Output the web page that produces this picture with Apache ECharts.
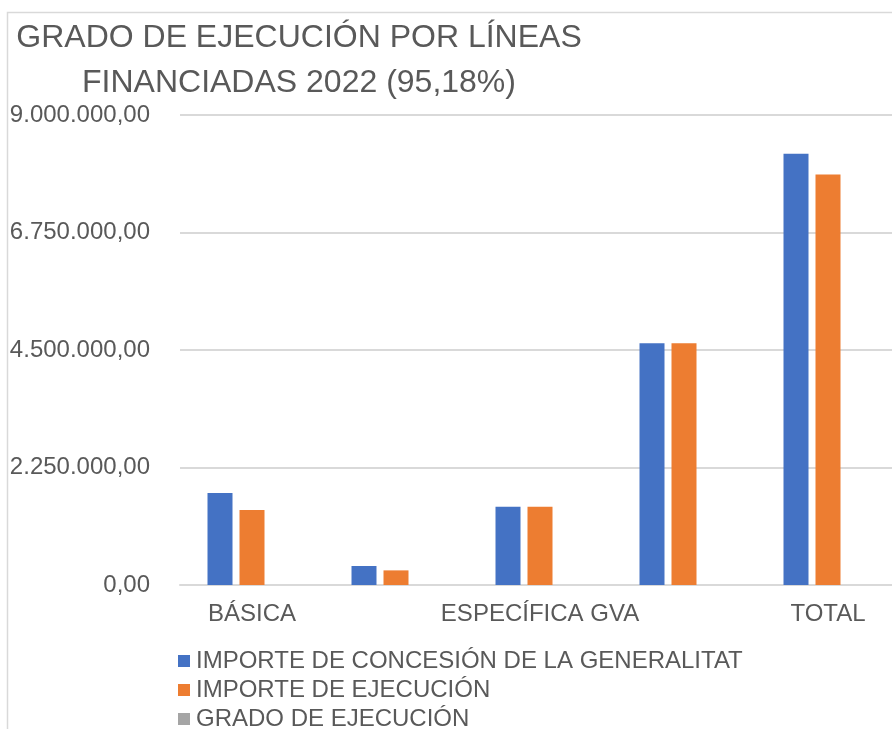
<!DOCTYPE html>
<html>
<head>
<meta charset="utf-8">
<script src="https://cdn.jsdelivr.net/npm/echarts@6/dist/echarts.min.js"></script>
<style>
  html, body { margin: 0; padding: 0; background: #fff; }
  #chart { width: 892px; height: 729px; }
</style>
</head>
<body>
<div id="chart"></div>
<script>
// Categories (only every other label is shown in the original)
const categories = ['BÁSICA', 'LÍNEA 2', 'ESPECÍFICA GVA', 'LÍNEA 4', 'TOTAL']

// Series values (euros)
const importeConcesion = [1762000, 364000, 1500000, 4628000, 8260000]
const importeEjecucion = [1436000, 280000, 1500000, 4628000, 7862000]
const gradoEjecucion = [0.815, 0.77, 1, 1, 0.9518]

const seriesNames = [
  'IMPORTE DE CONCESIÓN DE LA GENERALITAT',
  'IMPORTE DE EJECUCIÓN',
  'GRADO DE EJECUCIÓN'
]
const colors = ['#4472C4', '#ED7D31', '#A5A5A5']

// Y axis ticks
const yMin = 0
const yMax = 9000000
const yStep = 2250000

const fontFamily = '"Liberation Sans", Arial, sans-serif'
const textColor = '#595959'

// Spanish number format: 9.000.000,00
const formatEs = value => {
  const parts = Number(value).toFixed(2).split('.')
  const intPart = parts[0].replace(/\B(?=(\d{3})+(?!\d))/g, '.')
  return intPart + ',' + parts[1]
}

const chart = echarts.init(document.getElementById('chart'))

const options = {
  backgroundColor: '#fff',
  animation: false,
  graphic: [
    {
      type: 'rect',
      silent: true,
      shape: { x: 7.5, y: 12.5, width: 1000, height: 1000 },
      style: { fill: 'none', stroke: '#d9d9d9', lineWidth: 1.5 }
    }
  ],
  title: {
    text: 'GRADO DE EJECUCIÓN POR LÍNEAS\nFINANCIADAS 2022 (95,18%)',
    left: 299,
    top: 16,
    padding: 0,
    textAlign: 'center',
    textStyle: {
      fontFamily: fontFamily,
      fontSize: 32,
      fontWeight: 'normal',
      color: textColor,
      lineHeight: 45
    }
  },
  legend: {
    orient: 'vertical',
    left: 178,
    top: 649,
    height: 120,
    padding: 0,
    itemWidth: 12,
    itemHeight: 12,
    itemGap: 5,
    icon: 'rect',
    data: seriesNames,
    textStyle: {
      fontFamily: fontFamily,
      fontSize: 24,
      lineHeight: 24,
      color: textColor,
      padding: [0, 0, 0, 1]
    }
  },
  grid: {
    left: 180,
    top: 115,
    width: 720,
    height: 470,
    containLabel: false,
    outerBoundsMode: 'none'
  },
  xAxis: {
    type: 'category',
    data: categories,
    axisLine: { lineStyle: { color: '#d9d9d9', width: 2 } },
    axisTick: { show: false },
    axisLabel: {
      interval: 1,
      margin: 17,
      fontFamily: fontFamily,
      fontSize: 24,
      color: textColor
    }
  },
  yAxis: {
    type: 'value',
    min: yMin,
    max: yMax,
    interval: yStep,
    axisLine: { show: false },
    axisTick: { show: false },
    splitLine: { lineStyle: { color: '#d9d9d9', width: 2 } },
    axisLabel: {
      margin: 30,
      fontFamily: fontFamily,
      fontSize: 24,
      color: textColor,
      formatter: formatEs
    }
  },
  series: [
    {
      name: seriesNames[0],
      type: 'bar',
      data: importeConcesion,
      barWidth: 25,
      barGap: '28%',
      itemStyle: { color: colors[0] }
    },
    {
      name: seriesNames[1],
      type: 'bar',
      data: importeEjecucion,
      barWidth: 25,
      barGap: '28%',
      itemStyle: { color: colors[1] }
    },
    {
      name: seriesNames[2],
      type: 'bar',
      data: gradoEjecucion,
      barWidth: 25,
      barGap: '28%',
      itemStyle: { color: colors[2] }
    }
  ]
}

chart.setOption(options)
</script>
</body>
</html>
